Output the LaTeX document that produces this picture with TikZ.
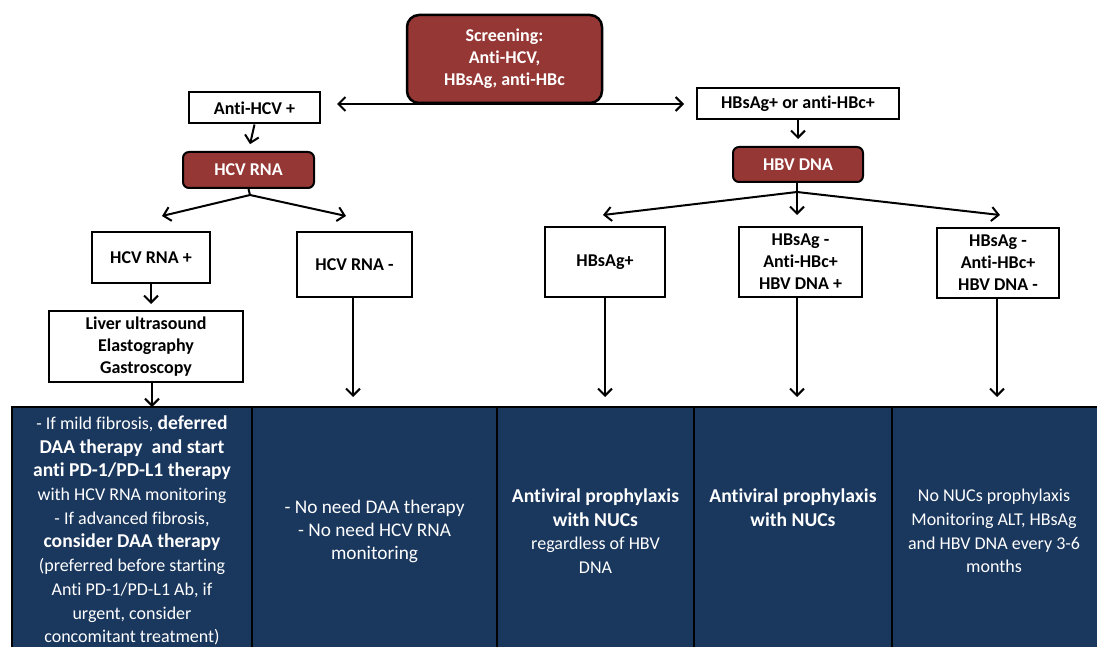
\documentclass[tikz,border=0pt]{standalone}
\usepackage{fontspec}
\setmainfont{Carlito}[Ligatures={NoCommon}]
\usetikzlibrary{arrows.meta}
\definecolor{boxred}{HTML}{953735}
\definecolor{navy}{HTML}{1A375E}
\newcommand\bigbold[1]{{\fontsize{19.6}{23.7}\selectfont\bfseries #1}}
\begin{document}
\begin{tikzpicture}[x=1pt,y=-1pt,
  box/.style={draw=black,line width=2pt,fill=white,inner sep=0pt,align=center,
    font=\fontsize{18}{22}\selectfont\bfseries},
  redbox/.style={box,fill=boxred,text=white,rounded corners=6pt},
  col/.style={draw=black,line width=1.5pt,fill=navy},
  coltext/.style={text=white,align=center,inner sep=0pt,
    font=\fontsize{18}{23.7}\selectfont},
  tip/.tip={Straight Barb[length=7pt,width=14pt,line width=2pt]},
  arr/.style={line width=2pt,-tip},
  arrboth/.style={line width=2pt,tip-tip}]
\useasboundingbox (0,0) rectangle (1097,647);

% bottom result columns
\path[col] (12,407) rectangle (252,660);
\path[col] (252,407) rectangle (497,660);
\path[col] (497,407) rectangle (694,660);
\path[col] (694,407) rectangle (892,660);
\path[col] (892,407) rectangle (1110,660);
\coordinate (c1) at (152,407);
\coordinate (c2) at (353,397);
\coordinate (c3) at (605,397);
\coordinate (c4) at (797,397);
\coordinate (c5) at (997,397);

\node[coltext] (t1) at (132,530.5) {- If mild fibrosis, \bigbold{deferred}\\
  \bigbold{DAA therapy\ \ and start}\\
  \bigbold{anti PD-1/PD-L1 therapy}\\
  with HCV RNA monitoring\\
  - If advanced fibrosis,\\
  \bigbold{consider DAA therapy}\\
  (preferred before starting\\
  Anti PD-1/PD-L1 Ab, if\\
  urgent, consider\\
  concomitant treatment)};
\node[coltext,font=\fontsize{19.3}{23}\selectfont] (t2) at (374.5,531) {- No need DAA therapy\\- No need HCV RNA\\monitoring};
\node[coltext] (t3) at (595.5,531) {\bigbold{Antiviral prophylaxis}\\\bigbold{with NUCs}\\regardless of HBV\\DNA};
\node[coltext] (t4) at (793,507.5) {\bigbold{Antiviral prophylaxis}\\\bigbold{with NUCs}};
\node[coltext] (t5) at (994,531) {No NUCs prophylaxis\\Monitoring ALT, HBsAg\\and HBV DNA every 3-6\\months};

% top
\node[redbox,rounded corners=12pt,line width=2.5pt,minimum width=195pt,minimum height=88pt] (screen) at (504.5,59) {Screening:\\Anti-HCV,\\HBsAg, anti-HBc};
\node[box,minimum width=131pt,minimum height=31pt] (antihcv) at (254.5,108) {Anti-HCV +};
\node[box,minimum width=202pt,minimum height=31pt] (hbvtop) at (798,104) {HBsAg+ or anti-HBc+};

% HCV branch
\node[redbox,minimum width=131pt,minimum height=36pt] (hcvrna) at (248.5,170) {HCV RNA};
\node[box,minimum width=118pt,minimum height=51pt] (hcvpos) at (151,257.5) {HCV RNA +};
\node[box,minimum width=115pt,minimum height=65pt] (hcvneg) at (354.5,264.5) {HCV RNA -};
\node[box,minimum width=194pt,minimum height=71pt] (liver) at (146,346.5) {Liver ultrasound\\Elastography\\Gastroscopy};

% HBV branch
\node[redbox,minimum width=130pt,minimum height=35pt] (hbvdna) at (798,164.5) {HBV DNA};
\node[box,minimum width=120pt,minimum height=70pt] (hbsag) at (605,262) {HBsAg+};
\node[box,minimum width=123pt,minimum height=70pt] (mid) at (800.5,262) {HBsAg -\\Anti-HBc+\\HBV DNA +};
\node[box,minimum width=122pt,minimum height=70pt] (right) at (998,262.5) {HBsAg -\\Anti-HBc+\\HBV DNA -};

% connectors
\draw[arrboth,shorten <=16pt,shorten >=12pt] (antihcv.east |- hbvtop.west) -- (hbvtop.west);
\draw[arr,shorten >=7pt] (antihcv.south) -- (hcvrna.north);
\coordinate (hcvapex) at (250,195);
\coordinate (hcvl) at (162,216);
\coordinate (hcvr) at (346,216);
\draw[line width=2pt] (hcvrna.south) -- (hcvapex);
\draw[arr] (hcvapex) -- (hcvl);
\draw[arr] (hcvapex) -- (hcvr);
\draw[arr,shorten >=6pt] (hcvpos.south) -- (hcvpos.south |- liver.north);
\draw[arr] (liver.south -| c1) -- (c1);
\draw[arr] (hcvneg.south -| c2) -- (c2);

\draw[arr,shorten >=7pt] (hbvtop.south -| hbvdna.north) -- (hbvdna.north);
\coordinate (hbvapex) at (797,192);
\coordinate (hbvl) at (603,215);
\coordinate (hbvm) at (797,215);
\coordinate (hbvr) at (1000,215);
\draw[line width=2pt] (hbvdna.south -| hbvapex) -- (hbvapex);
\draw[arr] (hbvapex) -- (hbvl);
\draw[arr] (hbvapex) -- (hbvm);
\draw[arr] (hbvapex) -- (hbvr);
\draw[arr] (hbsag.south) -- (c3);
\draw[arr] (mid.south -| c4) -- (c4);
\draw[arr] (right.south -| c5) -- (c5);
\end{tikzpicture}
\end{document}
